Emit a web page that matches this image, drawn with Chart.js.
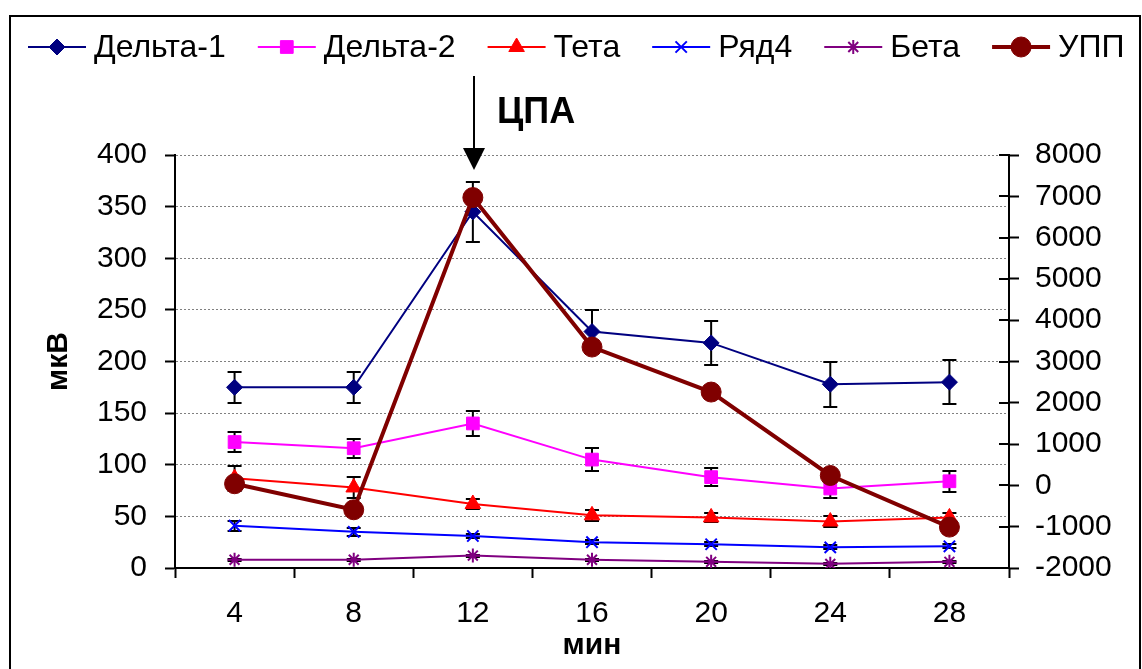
<!DOCTYPE html>
<html lang="ru">
<head>
<meta charset="utf-8">
<title>ЦПА</title>
<script src="https://cdn.jsdelivr.net/npm/chart.js@4.4.1/dist/chart.umd.min.js"></script>
<style>
  html, body { margin: 0; padding: 0; background: #fff; }
  #wrap { width: 1142px; height: 669px; }
</style>
</head>
<body>
<div id="wrap"><canvas id="eegChart" width="1142" height="669"></canvas></div>
<script>
// DATA
const minutes = ["4", "8", "12", "16", "20", "24", "28"];

const delta1 = [175, 175, 345, 229, 218, 178, 180];
const delta1Err = [15, 15, 29, 21, 21, 22, 21];

const delta2 = [122, 116, 140, 105, 88, 77, 84];
const delta2Err = [10, 9, 12, 11, 9, 9, 10];

const theta = [87, 78, 62, 51, 49, 45, 49];
const thetaErr = [12, 10, 5, 5, 4, 5, 4];

const row4 = [41, 35, 31, 25, 23, 20, 21];
const row4Err = [5, 4, 2, 2, 2, 2, 2];

const beta = [8, 8, 12, 8, 6, 4, 6];
const betaErr = [1, 1, 1, 1, 1, 1, 1];

const upp = [40, -590, 6970, 3350, 2260, 240, -1010];

const leftTicks = { min: 0, max: 400, step: 50 };
const rightTicks = { min: -2000, max: 8000, step: 1000 };

const FONT = "'Liberation Sans', Arial, sans-serif";

// error bars drawn under the series
const errorBars = {
  id: "errorBars",
  beforeDatasetsDraw(chart) {
    const ctx = chart.ctx;
    chart.data.datasets.forEach((ds, i) => {
      if (!ds.errors) return;
      const meta = chart.getDatasetMeta(i);
      const scale = chart.scales[ds.yAxisID || "y"];
      ctx.save();
      ctx.strokeStyle = "#000";
      ctx.lineWidth = 2;
      meta.data.forEach((pt, j) => {
        const v = ds.data[j];
        const e = ds.errors[j];
        const top = Math.round(scale.getPixelForValue(v + e));
        const bot = Math.round(scale.getPixelForValue(v - e));
        ctx.beginPath();
        ctx.moveTo(pt.x, top); ctx.lineTo(pt.x, bot);
        ctx.moveTo(pt.x - 7, top); ctx.lineTo(pt.x + 7, top);
        ctx.moveTo(pt.x - 7, bot); ctx.lineTo(pt.x + 7, bot);
        ctx.stroke();
      });
      ctx.restore();
    });
  }
};

function marker(ctx, ds, x, y) {
  ctx.save();
  ctx.fillStyle = ds.pointBackgroundColor;
  ctx.strokeStyle = ds.pointBorderColor;
  ctx.lineWidth = ds.pointBorderWidth;
  if (Chart.helpers && Chart.helpers.drawPoint) {
    Chart.helpers.drawPoint(ctx, {
      pointStyle: ds.pointStyle, radius: ds.pointRadius,
      rotation: 0, borderWidth: ds.pointBorderWidth
    }, x, y);
  } else {
    ctx.beginPath();
    ctx.arc(x, y, ds.pointRadius, 0, Math.PI * 2);
    ctx.fill();
  }
  ctx.restore();
}

// legend, arrow, titles, frame
const decorations = {
  id: "decorations",
  afterDraw(chart) {
    const ctx = chart.ctx;
    const area = chart.chartArea;
    ctx.save();

    // frame
    ctx.strokeStyle = "#000";
    ctx.lineWidth = 2;
    ctx.strokeRect(10, 16, 1130, 700);

    // inner half of the right axis ticks
    const y1 = chart.scales.y1;
    ctx.lineWidth = 2;
    y1.ticks.forEach((t) => {
      const py = Math.round(y1.getPixelForValue(t.value));
      ctx.beginPath();
      ctx.moveTo(area.right - 10, py);
      ctx.lineTo(area.right, py);
      ctx.stroke();
    });

    // legend
    ctx.font = "32px " + FONT;
    ctx.textBaseline = "middle";
    ctx.textAlign = "left";
    let lx = 28;
    const ly = 47;
    chart.data.datasets.forEach((ds) => {
      ctx.strokeStyle = ds.borderColor;
      ctx.lineWidth = ds.borderWidth;
      ctx.beginPath();
      ctx.moveTo(lx, ly);
      ctx.lineTo(lx + 58, ly);
      ctx.stroke();
      marker(ctx, ds, lx + 29, ly);
      ctx.fillStyle = "#000";
      ctx.fillText(ds.label, lx + 66, ly + 1);
      lx += 66 + ctx.measureText(ds.label).width + 32;
    });

    // arrow at 12 min
    const ax = Math.round(chart.scales.x.getPixelForValue(2)) + 1;
    ctx.strokeStyle = "#000";
    ctx.fillStyle = "#000";
    ctx.lineWidth = 2;
    ctx.beginPath();
    ctx.moveTo(ax, 76);
    ctx.lineTo(ax, 150);
    ctx.stroke();
    ctx.beginPath();
    ctx.moveTo(ax - 11, 148);
    ctx.lineTo(ax + 11, 148);
    ctx.lineTo(ax, 170);
    ctx.closePath();
    ctx.fill();

    ctx.font = "bold 36px " + FONT;
    ctx.textBaseline = "alphabetic";
    ctx.fillText("ЦПА", 497, 123);

    // axis titles
    ctx.font = "bold 30px " + FONT;
    ctx.textAlign = "center";
    ctx.textBaseline = "middle";
    ctx.fillText("мин", (area.left + area.right) / 2, 646);
    ctx.translate(59, (area.top + area.bottom) / 2);
    ctx.rotate(-Math.PI / 2);
    ctx.fillText("мкВ", 0, 0);

    ctx.restore();
  }
};

document.addEventListener("DOMContentLoaded", () => {
  const canvas = document.getElementById("eegChart");

  const base = (label, data, color, style, radius, extra) => Object.assign({
    label: label,
    data: data,
    borderColor: color,
    backgroundColor: color,
    borderWidth: 2,
    pointStyle: style,
    pointRadius: radius,
    pointHoverRadius: radius,
    pointBackgroundColor: color,
    pointBorderColor: color,
    pointBorderWidth: 1,
    tension: 0,
    yAxisID: "y"
  }, extra || {});

  new Chart(canvas, {
    type: "line",
    data: {
      labels: minutes,
      datasets: [
        base("Дельта-1", delta1, "#000080", "rectRot", 8, { errors: delta1Err, order: 1 }),
        base("Дельта-2", delta2, "#FF00FF", "rect", 9, { errors: delta2Err, order: 2 }),
        base("Тета", theta, "#FF0000", "triangle", 9, { errors: thetaErr, order: 3 }),
        base("Ряд4", row4, "#0000FF", "crossRot", 8, { errors: row4Err, order: 4, pointBorderWidth: 2 }),
        base("Бета", beta, "#800080", "star", 7, { errors: betaErr, order: 5, pointBorderWidth: 2 }),
        base("УПП", upp, "#800000", "circle", 10, { borderWidth: 4, yAxisID: "y1", order: 0 })
      ]
    },
    options: {
      responsive: false,
      animation: false,
      devicePixelRatio: 1,
      layout: { padding: { top: 155, left: 0, right: 0, bottom: 0 } },
      plugins: {
        legend: { display: false },
        tooltip: { enabled: false }
      },
      scales: {
        x: {
          type: "category",
          offset: true,
          grid: {
            offset: true,
            drawOnChartArea: false,
            drawTicks: true,
            tickLength: 10,
            tickColor: "#000",
            tickWidth: 2
          },
          border: { display: true, color: "#000", width: 2 },
          ticks: { color: "#000", font: { family: FONT, size: 30 }, padding: 18, maxRotation: 0 },
          afterFit: (s) => { s.height = 101; }
        },
        y: {
          position: "left",
          min: leftTicks.min,
          max: leftTicks.max,
          ticks: { stepSize: leftTicks.step, color: "#000", font: { family: FONT, size: 30 }, padding: 18 },
          grid: {
            color: "#808080",
            lineWidth: 1,
            tickColor: "#000",
            tickWidth: 2,
            tickLength: 10,
            tickBorderDash: []
          },
          border: { display: true, color: "#000", width: 2, dash: [2, 2] },
          afterFit: (s) => { s.width = 175; }
        },
        y1: {
          position: "right",
          min: rightTicks.min,
          max: rightTicks.max,
          ticks: {
            stepSize: rightTicks.step,
            color: "#000",
            font: { family: FONT, size: 30 },
            padding: 16,
            callback: (v) => String(v)
          },
          grid: {
            drawOnChartArea: false,
            tickColor: "#000",
            tickWidth: 2,
            tickLength: 10
          },
          border: { display: true, color: "#000", width: 2 },
          afterFit: (s) => { s.width = 133; }
        }
      }
    },
    plugins: [errorBars, decorations]
  });
});
</script>
</body>
</html>
